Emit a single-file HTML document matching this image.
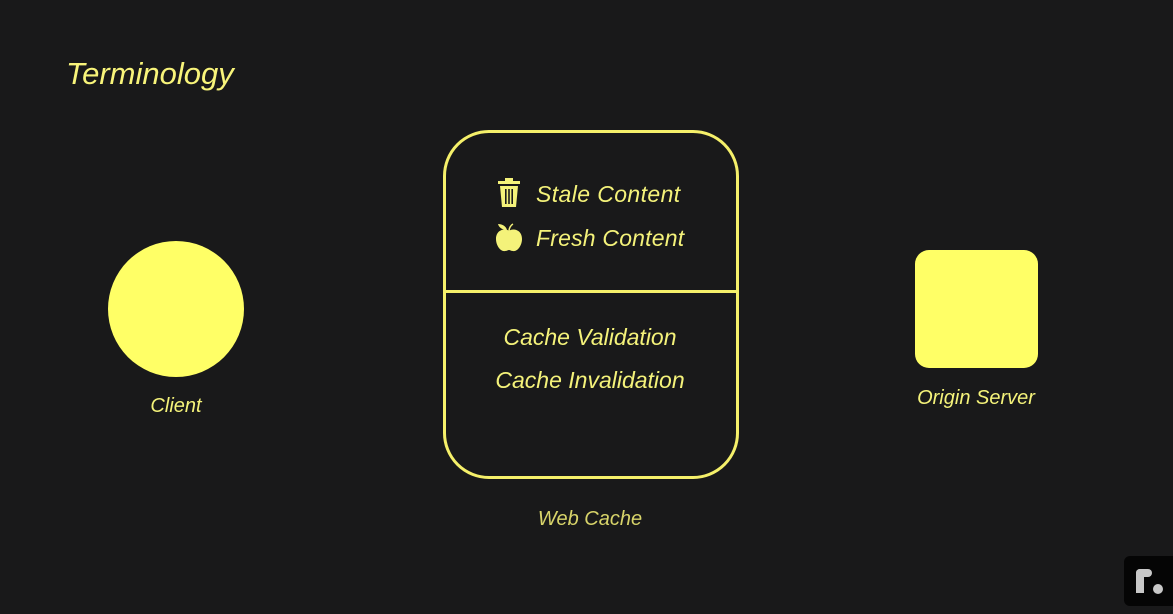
<!DOCTYPE html>
<html><head><meta charset="utf-8"><style>
body{margin:0;width:1173px;height:614px;background:#19191a;overflow:hidden;position:relative;font-family:"Liberation Sans",sans-serif;font-style:italic;color:#f4f27a}
.t{position:absolute;white-space:nowrap;transform:translateX(-50%)}
</style></head><body>
<div style="position:absolute;left:66px;top:56px;font-size:31px;color:#f8f47a">Terminology</div>
<div style="position:absolute;left:108px;top:241px;width:136px;height:136px;border-radius:50%;background:#ffff66"></div>
<div class="t" style="left:176px;top:395px;font-size:20px">Client</div>
<div style="position:absolute;left:443px;top:130px;width:290px;height:343px;border:3px solid #f5f06a;border-radius:46px"></div>
<div style="position:absolute;left:443px;top:290px;width:296px;height:3px;background:#f5f06a"></div>
<svg style="position:absolute;left:497px;top:178px" width="24" height="30" viewBox="0 0 24 30"><rect x="1" y="3" width="22" height="3" fill="#f4f27a"/><rect x="8" y="0" width="8" height="4" fill="#f4f27a"/><path d="M3 8h18l-2 21H5z" fill="#f4f27a"/><rect x="8" y="11" width="1.6" height="15" fill="#19191a"/><rect x="11.2" y="11" width="1.6" height="15" fill="#19191a"/><rect x="14.4" y="11" width="1.6" height="15" fill="#19191a"/></svg>
<svg style="position:absolute;left:495px;top:222px" width="28" height="30" viewBox="0 0 28 30"><path d="M14 9c-3-3-13-2-13 8 0 7 5 13 9 12 2 0 3-1 4-1s2 1 4 1c4 1 9-5 9-12 0-10-10-11-13-8z" fill="#f4f27a"/><path d="M14 9c0-3 2-6 4-7" stroke="#f4f27a" stroke-width="1.5" fill="none"/><path d="M3 2c4 0 8 2 9 6-4 0-8-2-9-6z" fill="#f4f27a"/></svg>
<div style="position:absolute;left:536px;top:181px;font-size:23px;letter-spacing:0.4px">Stale Content</div>
<div style="position:absolute;left:536px;top:225px;font-size:23px;letter-spacing:0.2px">Fresh Content</div>
<div class="t" style="left:590px;top:324px;font-size:23px">Cache Validation</div>
<div class="t" style="left:590px;top:367px;font-size:23px">Cache Invalidation</div>
<div class="t" style="left:590px;top:508px;font-size:20px;color:#d8d46a">Web Cache</div>
<div style="position:absolute;left:915px;top:250px;width:123px;height:118px;border-radius:14px;background:#ffff66"></div>
<div class="t" style="left:976px;top:387px;font-size:20px">Origin Server</div>
<div style="position:absolute;left:1124px;top:556px;width:49px;height:50px;border-radius:6px 0 0 6px;background:#050505"></div>
<div style="position:absolute;left:1136px;top:569px;width:8px;height:24px;background:#c8c8c8;border-radius:4px 0 0 0"></div>
<div style="position:absolute;left:1136px;top:569px;width:16px;height:8px;background:#c8c8c8;border-radius:4px"></div>
<div style="position:absolute;left:1153px;top:584px;width:10px;height:10px;background:#c8c8c8;border-radius:50%"></div>
</body></html>
